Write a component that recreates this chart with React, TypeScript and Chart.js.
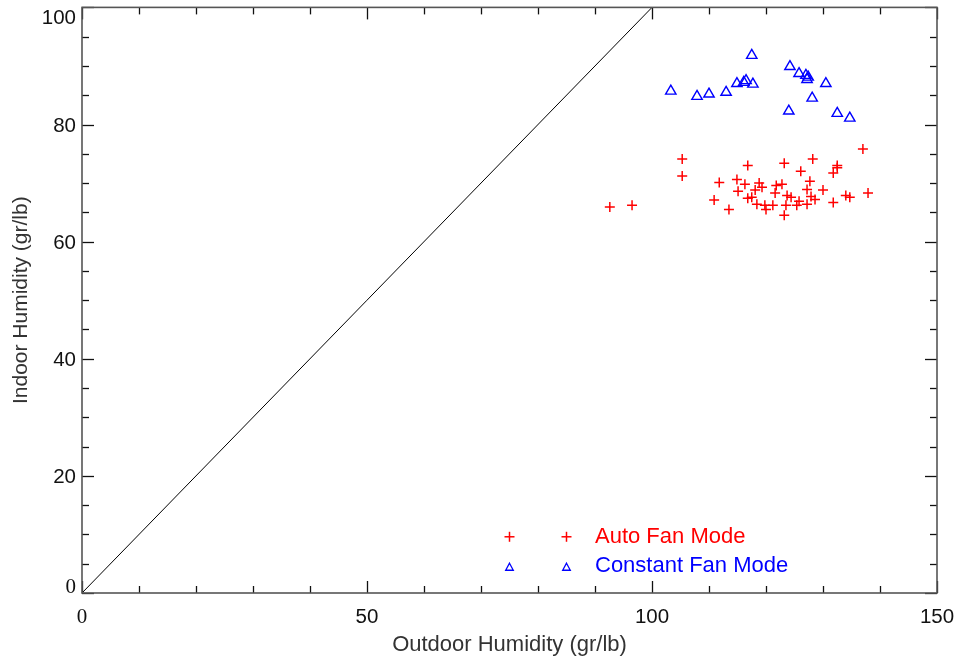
import React, { useEffect, useRef } from "react";
import { Chart, registerables } from "chart.js";

Chart.register(...registerables);

// ---- Data ----
const autoX = [92.6, 96.5, 105.3, 105.3, 110.9, 111.8, 113.5, 114.9, 115.1, 116.3, 116.8, 116.8, 117.5, 118.1, 118.4, 118.8, 119.3, 119.8, 120.0, 121.2, 121.6, 121.8, 122.8, 123.2, 123.2, 123.5, 123.7, 124.4, 125.4, 125.8, 126.1, 127.2, 127.2, 127.7, 127.9, 128.2, 128.6, 130.0, 131.8, 131.8, 132.5, 132.5, 134.0, 134.7, 137.0, 137.9];
const autoY = [65.9, 66.2, 74.1, 71.2, 67.1, 70.1, 65.5, 70.6, 68.6, 69.8, 73.0, 67.4, 67.6, 68.8, 66.4, 70.0, 69.3, 66.2, 65.5, 66.2, 68.3, 69.6, 69.8, 73.4, 64.5, 66.2, 67.9, 67.6, 66.2, 66.9, 72.0, 66.4, 68.9, 70.3, 67.7, 74.1, 67.2, 68.8, 71.7, 66.7, 73.0, 72.6, 67.9, 67.6, 75.8, 68.3];
const constX = [103.3, 107.9, 110.0, 113.0, 114.9, 116.1, 116.5, 117.7, 117.5, 124.2, 125.8, 127.0, 127.2, 127.4, 130.5, 128.1, 124.0, 132.5, 134.7];
const constY = [85.7, 84.8, 85.2, 85.5, 87.0, 87.2, 87.5, 86.9, 91.8, 89.9, 88.7, 88.4, 87.7, 88.1, 87.0, 84.5, 82.3, 81.9, 81.1];
const lineX = [0, 100];
const lineY = [0, 100];

const xTickLabels = [0, 50, 100, 150];
const yTickLabels = [0, 20, 40, 60, 80, 100];
const xMinorStep = 10;
const yMinorStep = 5;

const legendLabels = ["Auto Fan Mode", "Constant Fan Mode"];
const xTitle = "Outdoor Humidity (gr/lb)";
const yTitle = "Indoor Humidity (gr/lb)";

const RED = "#ff0000";
const BLUE = "#0000ff";
const SANS = '"Liberation Sans", Arial, sans-serif';
const SERIF = '"Liberation Serif", "Times New Roman", serif';

const decorPlugin = {
  id: "decor",
  afterDraw(chart: any) {
    const { ctx, chartArea: a } = chart;
    const xs = chart.scales.x;
    const ys = chart.scales.y;
    ctx.save();

    const seg = (x1: number, y1: number, x2: number, y2: number) => {
      ctx.beginPath();
      ctx.moveTo(x1, y1);
      ctx.lineTo(x2, y2);
      ctx.stroke();
    };

    // tick marks (inward, all four sides)
    ctx.strokeStyle = "#111";
    ctx.lineWidth = 1.3;
    for (let v = xs.min; v <= xs.max + 1e-9; v += xMinorStep) {
      const px = Math.round(xs.getPixelForValue(v)) + 0.5;
      const len = xTickLabels.includes(v) ? 12 : 7;
      seg(px, a.bottom, px, a.bottom - len);
      seg(px, a.top, px, a.top + len);
    }
    for (let v = ys.min; v <= ys.max + 1e-9; v += yMinorStep) {
      const py = Math.round(ys.getPixelForValue(v)) + 0.5;
      const len = yTickLabels.includes(v) ? 12 : 7;
      seg(a.left, py, a.left + len, py);
      seg(a.right, py, a.right - len, py);
    }

    // frame
    ctx.strokeStyle = "#555";
    ctx.lineWidth = 1.6;
    ctx.strokeRect(a.left, a.top, a.right - a.left, a.bottom - a.top);

    // tick labels
    ctx.fillStyle = "#111";
    ctx.textBaseline = "alphabetic";
    ctx.textAlign = "center";
    for (const v of xTickLabels) {
      ctx.font = v === 0 ? `21px ${SERIF}` : `20.5px ${SANS}`;
      ctx.fillText(String(v), xs.getPixelForValue(v), a.bottom + 30);
    }
    ctx.textAlign = "right";
    for (const v of yTickLabels) {
      ctx.font = v === 0 ? `21px ${SERIF}` : `20.5px ${SANS}`;
      let c = ys.getPixelForValue(v);
      c = Math.max(a.top + 10, Math.min(a.bottom - 7, c));
      ctx.fillText(String(v), a.left - 6, c + 7);
    }

    // axis titles
    ctx.fillStyle = "#333";
    ctx.font = `22px ${SANS}`;
    ctx.textAlign = "center";
    ctx.fillText(xTitle, (a.left + a.right) / 2, a.bottom + 58);
    ctx.save();
    ctx.translate(27, (a.top + a.bottom) / 2);
    ctx.rotate(-Math.PI / 2);
    ctx.font = `21px ${SANS}`;
    ctx.fillText(yTitle, 0, 0);
    ctx.restore();

    // legend
    const lx1 = xs.getPixelForValue(75.0);
    const lx2 = xs.getPixelForValue(85.0);
    const row1 = ys.getPixelForValue(9.6);
    const row2 = ys.getPixelForValue(4.4);
    ctx.strokeStyle = RED;
    ctx.lineWidth = 1.5;
    for (const lx of [lx1, lx2]) {
      seg(lx - 5, row1, lx + 5, row1);
      seg(lx, row1 - 5, lx, row1 + 5);
    }
    ctx.strokeStyle = BLUE;
    ctx.lineWidth = 1.3;
    for (const lx of [lx1, lx2]) {
      ctx.beginPath();
      ctx.moveTo(lx, row2 - 4);
      ctx.lineTo(lx + 3.8, row2 + 3);
      ctx.lineTo(lx - 3.8, row2 + 3);
      ctx.closePath();
      ctx.stroke();
    }
    ctx.font = `22px ${SANS}`;
    ctx.textAlign = "left";
    const tx = xs.getPixelForValue(90.0);
    ctx.fillStyle = RED;
    ctx.fillText(legendLabels[0], tx, row1 + 6);
    ctx.fillStyle = BLUE;
    ctx.fillText(legendLabels[1], tx, row2 + 5);

    ctx.restore();
  },
};

export default function App() {
  const ref = useRef<HTMLCanvasElement | null>(null);
  useEffect(() => {
    if (!ref.current) return;
    const chart = new Chart(ref.current, {
      type: "scatter",
      data: {
        datasets: [
          {
            label: "line",
            data: lineX.map((x, i) => ({ x, y: lineY[i] })),
            showLine: true,
            borderColor: "#000",
            borderWidth: 1,
            pointRadius: 0,
          },
          {
            label: legendLabels[0],
            data: autoX.map((x, i) => ({ x, y: autoY[i] })),
            pointStyle: "cross",
            pointRadius: 5,
            borderColor: RED,
            backgroundColor: RED,
            borderWidth: 1.5,
          },
          {
            label: legendLabels[1],
            data: constX.map((x, i) => ({ x, y: constY[i] })),
            pointStyle: "triangle",
            pointRadius: 6,
            borderColor: BLUE,
            backgroundColor: "rgba(0,0,0,0)",
            borderWidth: 1.4,
          },
        ],
      },
      options: {
        responsive: false,
        animation: false,
        events: [],
        layout: { padding: { top: 6, right: 19, left: 0, bottom: 0 } },
        plugins: { legend: { display: false }, tooltip: { enabled: false } },
        scales: {
          x: {
            type: "linear",
            min: 0,
            max: 150,
            grid: { display: false },
            border: { display: false },
            ticks: { display: false },
            afterFit: (s: any) => {
              s.height = 66;
            },
          },
          y: {
            type: "linear",
            min: 0,
            max: 100,
            grid: { display: false },
            border: { display: false },
            ticks: { display: false },
            afterFit: (s: any) => {
              s.width = 82;
            },
          },
        },
      },
      plugins: [decorPlugin],
    } as any);
    return () => chart.destroy();
  }, []);
  return (
    <div style={{ position: "absolute", left: 0, top: 0, width: 956, height: 659, background: "#fff" }}>
      <canvas ref={ref} width={956} height={659} style={{ display: "block" }} />
    </div>
  );
}
